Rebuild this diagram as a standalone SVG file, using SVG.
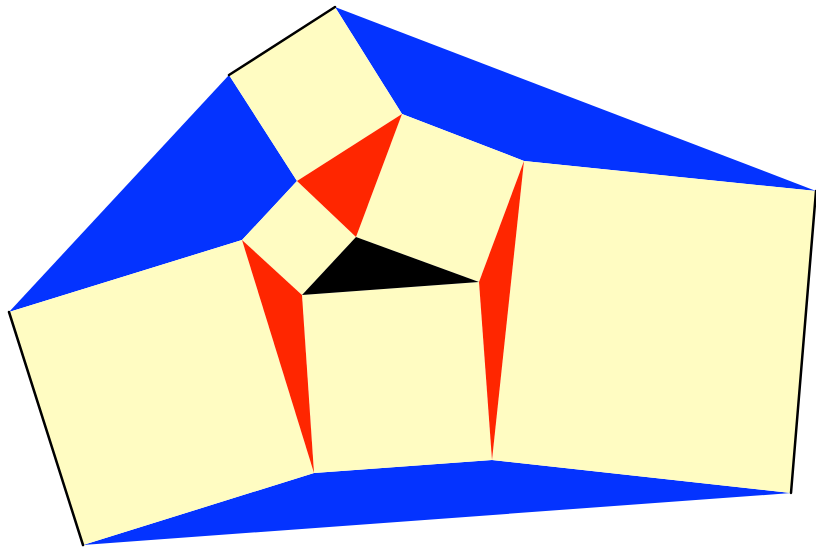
<svg xmlns="http://www.w3.org/2000/svg" width="816" height="550" viewBox="0 0 816 550">
<style>
.sq{fill:#fffcc2}
.bl{fill:#0433ff}
.rd{fill:#ff2600}
.bk{fill:#000}
.edge{stroke:#000;stroke-width:2.5;fill:none;stroke-linecap:round}
</style>
<rect width="816" height="550" fill="#fff"/>
<g id="flanks">
<polygon class="bl" points="229,75 297,181 242,240 9,312"/>
<polygon class="bl" points="335,7 816,191 524,161 402,114"/>
<polygon class="bl" points="314,473 492,460 791,493 83,545"/>
</g>
<g id="squares">
<polygon id="sq1" class="sq" points="229,75 335,7 402,114 297,181"/>
<polygon id="sq2" class="sq" points="297,181 356,237 302,295 242,240"/>
<polygon id="sq3" class="sq" points="402,114 524,161 479,282 356,237"/>
<polygon id="sq4" class="sq" points="302,295 479,282 492,460 314,473"/>
<polygon id="sq5" class="sq" points="9,312 242,240 314,473 83,545"/>
<polygon id="sq6" class="sq" points="524,161 816,191 791,493 492,460"/>
</g>
<g id="triangles">
<polygon class="rd" points="297,181 402,114 356,237"/>
<polygon class="rd" points="242,240 302,295 314,473"/>
<polygon class="rd" points="524,161 479,282 492,460"/>
<polygon class="bk" points="302,295 356,237 479,282"/>
</g>
<g id="edges">
<line class="edge" x1="229" y1="75" x2="335" y2="7"/>
<line class="edge" x1="9" y1="312" x2="83" y2="545"/>
<line class="edge" x1="816" y1="191" x2="791" y2="493"/>
</g>
</svg>
